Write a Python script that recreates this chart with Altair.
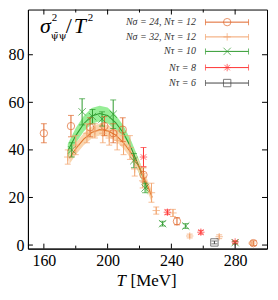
import altair as alt
import pandas as pd

# ---------------- data ----------------
# N_sigma=24, N_tau=12 (circles)
c24_T = [160, 177, 189, 198, 203.5, 209.5, 222.5, 243.5, 291.5]
c24_v = [47, 50, 49.5, 50, 47, 48.5, 29.5, 10, 0.8]
c24_e = [4, 4.5, 4, 4, 4, 5, 3, 1.5, 1]

# N_sigma=32, N_tau=12 (plus)
p32_T = [175, 180, 187, 192, 197, 201, 206, 210, 214, 217, 222, 227.5, 230.5, 241, 251.5, 270, 290.5]
p32_v = [37, 42, 47, 48, 47, 45, 44, 42, 41, 32, 27, 22, 14.5, 13.5, 3.8, 3.5, 0.8]
p32_e = [3, 4, 4, 3, 4, 3, 4, 4, 5, 3, 3, 4, 1.5, 1.5, 0.8, 0.8, 0.5]

# N_tau=10 (x)
x10_T = [177.5, 184, 190.5, 196.5, 203.5, 216.5, 223.5, 234.5, 249, 280]
x10_v = [40, 56, 54, 53, 55, 35.5, 24, 9, 8, 1]
x10_e = [3, 5.5, 3, 3, 6, 3, 2, 1, 1, 0.5]

# N_tau=8 (asterisk)
s8_T = [222.5, 237.5, 258.5, 280]
s8_v = [37, 13.8, 5.4, 1.3]
s8_e = [4, 1, 0.8, 0.5]

# N_tau=6 (square)
q6_T = [267]
q6_v = [1.1]
q6_e = [0.6]

# fitted curves with bands
g_T = [175, 180, 185, 190, 195, 200, 205, 210, 215, 220, 225]
g_v = [39.5, 46, 51, 54.3, 55.3, 54.5, 51.5, 47, 40.5, 32.5, 23.5]
g_h = [3, 3.2, 3.3, 3.3, 3.3, 3.3, 3.3, 3.2, 3, 2.8, 2.5]

o_T = [176, 180, 185, 190, 195, 200, 205, 210, 215, 220, 225, 228]
o_v = [36.5, 40.5, 44.5, 47.3, 48.5, 48, 46.3, 43, 38.5, 32.5, 25, 20]
o_h = [2.5, 2.5, 2.5, 2.5, 2.5, 2.5, 2.5, 2.5, 2.5, 2.5, 2.5, 2.5]

series_names = ["s24", "s32", "s10", "s8", "s6"]
series_labels = ["Nσ = 24, Nτ = 12", "Nσ = 32, Nτ = 12", "Nτ = 10", "Nτ = 8", "Nτ = 6"]
series_colors = ["#e0662a", "#f2a36b", "#2e9b2e", "#ff3333", "#444444"]
series_shapes = [
    "circle",
    "M-1,0L1,0M0,-1L0,1",
    "M-1,-1L1,1M-1,1L1,-1",
    "M-1,0L1,0M0,-1L0,1M-0.75,-0.75L0.75,0.75M-0.75,0.75L0.75,-0.75",
    "square",
]

x_ticks_major = [160, 200, 240, 280]
x_ticks_minor = [180, 220, 260]
y_ticks = [0, 20, 40, 60, 80]

legend_y = [93.7, 87.5, 81.4, 74.6, 68.1]

# ---------------- build tables ----------------
cmap = dict(zip(series_names, series_colors))
smap = dict(zip(series_names, series_shapes))
rows = []
for name, T, v, e in zip(series_names,
                         [c24_T, p32_T, x10_T, s8_T, q6_T],
                         [c24_v, p32_v, x10_v, s8_v, q6_v],
                         [c24_e, p32_e, x10_e, s8_e, q6_e]):
    for t, val, err in zip(T, v, e):
        rows.append({"series": name, "col": cmap[name], "shp": smap[name],
                     "T": t, "v": val, "lo": val - err, "hi": val + err})
pts = pd.DataFrame(rows)

curves = pd.DataFrame(
    [{"curve": "g", "fill": "#8cec8c", "stroke": "#2e9b2e", "T": t, "v": v, "lo": v - h, "hi": v + h}
     for t, v, h in zip(g_T, g_v, g_h)]
    + [{"curve": "o", "fill": "#fad2a6", "stroke": "#e0762a", "T": t, "v": v, "lo": v - h, "hi": v + h}
       for t, v, h in zip(o_T, o_v, o_h)]
)

W, H = 240, 240
XD = [150, 300]
YD = [-1.5, 99]
SERIF = "Liberation Serif"

xs = alt.Scale(domain=XD, nice=False, zero=False)
ys = alt.Scale(domain=YD, nice=False, zero=False)

X = alt.X("T:Q", scale=xs,
          axis=alt.Axis(values=x_ticks_major, title=None, ticks=False, grid=False,
                        labelFont=SERIF, labelFontSize=16, labelPadding=4,
                        domainColor="black", labelColor="black"))
Y = alt.Y("v:Q", scale=ys,
          axis=alt.Axis(values=y_ticks, title=None, ticks=False, grid=False,
                        labelFont=SERIF, labelFontSize=16, labelPadding=4,
                        domainColor="black", labelColor="black"))

COL = alt.Color("col:N", scale=None, legend=None)
SHP = alt.Shape("shp:N", scale=None, legend=None)

band = alt.Chart(curves).mark_area(opacity=0.9).encode(
    x="T:Q", y="lo:Q", y2="hi:Q",
    fill=alt.Fill("fill:N", scale=None, legend=None),
    detail="curve:N",
)
line = alt.Chart(curves).mark_line(strokeWidth=1.1).encode(
    x="T:Q", y="v:Q",
    stroke=alt.Stroke("stroke:N", scale=None, legend=None),
    detail="curve:N",
)

ebar = alt.Chart(pts).mark_rule(strokeWidth=1).encode(x="T:Q", y="lo:Q", y2="hi:Q", color=COL)
cap_lo = alt.Chart(pts).mark_tick(orient="horizontal", size=6, thickness=1).encode(
    x="T:Q", y="lo:Q", color=COL)
cap_hi = alt.Chart(pts).mark_tick(orient="horizontal", size=6, thickness=1).encode(
    x="T:Q", y="hi:Q", color=COL)
marks = alt.Chart(pts).mark_point(filled=False, size=55, strokeWidth=1).encode(
    x="T:Q", y="v:Q", color=COL, shape=SHP)

# ---- frame ticks (pointing inward) ----
xt_major = pd.DataFrame({"T": x_ticks_major})
xt_minor = pd.DataFrame({"T": x_ticks_minor})
yt = pd.DataFrame({"v": y_ticks})


def tick_rules():
    layers = []
    for df, ln in [(xt_major, 5), (xt_minor, 3)]:
        layers.append(alt.Chart(df).mark_rule(color="black", strokeWidth=1).encode(
            x="T:Q", y=alt.value(H), y2=alt.value(H - ln)))
        layers.append(alt.Chart(df).mark_rule(color="black", strokeWidth=1).encode(
            x="T:Q", y=alt.value(0), y2=alt.value(ln)))
    layers.append(alt.Chart(yt).mark_rule(color="black", strokeWidth=1).encode(
        y="v:Q", x=alt.value(0), x2=alt.value(5)))
    layers.append(alt.Chart(yt).mark_rule(color="black", strokeWidth=1).encode(
        y="v:Q", x=alt.value(W), x2=alt.value(W - 5)))
    return layers


# ---- legend ----
leg = pd.DataFrame({"series": series_names, "label": series_labels, "v": legend_y,
                    "col": series_colors, "shp": series_shapes,
                    "x0": [261.4] * 5, "x1": [288.4] * 5, "xm": [275] * 5, "xl": [255.4] * 5})
leg_line = alt.Chart(leg).mark_rule(strokeWidth=1).encode(x="x0:Q", x2="x1:Q", y="v:Q", color=COL)
leg_cap0 = alt.Chart(leg).mark_tick(orient="vertical", size=6, thickness=1).encode(
    x="x0:Q", y="v:Q", color=COL)
leg_cap1 = alt.Chart(leg).mark_tick(orient="vertical", size=6, thickness=1).encode(
    x="x1:Q", y="v:Q", color=COL)
leg_mark = alt.Chart(leg).mark_point(filled=False, size=55, strokeWidth=1).encode(
    x="xm:Q", y="v:Q", color=COL, shape=SHP)
leg_text = alt.Chart(leg).mark_text(align="right", baseline="middle", font=SERIF,
                                    fontSize=10, fontStyle="italic", color="#333").encode(
    x="xl:Q", y="v:Q", text="label:N")

# ---- in-plot label (sigma^2_{psibar psi} / T^2) ----
tp = []
specs = [("σ", 22, "italic", 0, 0), ("2", 11, "normal", 12, -12), ("ψ\u0304ψ", 10, "normal", 11, 6),
         ("/", 22, "normal", 26, 0), ("T", 22, "italic", 34, 0), ("2", 11, "normal", 48, -12)]
for txt, fs, st, dx, dy in specs:
    tp.append(alt.Chart(pd.DataFrame({"T": [157.5], "v": [89], "t": [txt]})).mark_text(
        align="left", baseline="alphabetic", font="DejaVu Serif" if "ψ" in txt else SERIF,
        fontSize=fs, fontStyle=st,
        dx=dx, dy=dy, color="black").encode(x="T:Q", y="v:Q", text="t:N"))

# ---- x-axis title: italic T + [MeV] ----
xt_specs = [("T", "italic", -31), ("[MeV]", "normal", -17)]
for txt, st, dx in xt_specs:
    tp.append(alt.Chart(pd.DataFrame({"T": [225], "t": [txt]})).mark_text(
        align="left", baseline="alphabetic", font=SERIF, fontSize=17, fontStyle=st,
        dx=dx, color="black").encode(x="T:Q", y=alt.value(H + 38), text="t:N"))

base = alt.Chart(pts).mark_point(opacity=0).encode(x=X, y=Y)

chart = alt.layer(
    base, band, line, ebar, cap_lo, cap_hi, marks,
    *tick_rules(),
    leg_line, leg_cap0, leg_cap1, leg_mark, leg_text,
    *tp,
).properties(width=W, height=H, padding={"left": 0, "top": 0, "right": 2, "bottom": 2}).configure_view(
    stroke="black", strokeWidth=1
).configure_axis(domainWidth=1)

chart.save("out.html", embed_options={"renderer": "svg", "actions": False})
